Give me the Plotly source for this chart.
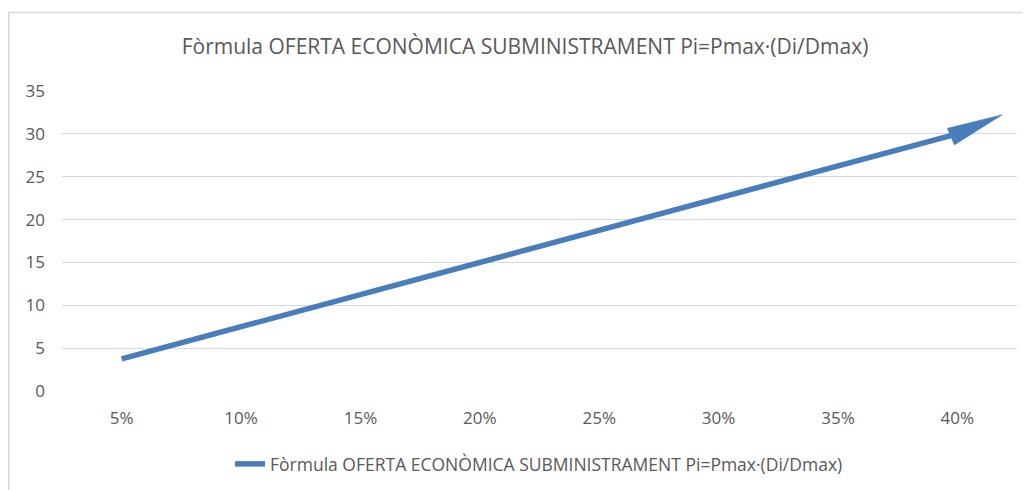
import math
import plotly.graph_objects as go

# ---- data ----
categories = ["5%", "10%", "15%", "20%", "25%", "30%", "35%", "40%"]
values = [3.75, 7.5, 11.25, 15, 18.75, 22.5, 26.25, 30]
series_name = "Fòrmula OFERTA ECONÒMICA SUBMINISTRAMENT Pi=Pmax·(Di/Dmax)"
title_text = "Fòrmula OFERTA ECONÒMICA SUBMINISTRAMENT Pi=Pmax·(Di/Dmax)"
y_ticks = [0, 5, 10, 15, 20, 25, 30, 35]

# ---- layout constants (page body has an 8px margin) ----
W, H = 1022, 482
ML, MR, MT, MB = 54, 13, 83, 99
PLOT_W = W - ML - MR
PLOT_H = H - MT - MB
X_RANGE = [-0.5, len(categories) - 0.5]
Y_RANGE = [0, 35]
BLUE = "#4a7dbb"
GRID = "#d9d9d9"
TXT = "#595959"
FONT = "Open Sans"

xs = list(range(len(categories)))

fig = go.Figure()
fig.add_trace(go.Scatter(
    x=xs, y=values, mode="lines", name=series_name,
    line=dict(color=BLUE, width=5.5),
    hoverinfo="skip",
))

# arrow head at the end of the line (built from last data point)
px_per_x = PLOT_W / (X_RANGE[1] - X_RANGE[0])
px_per_y = PLOT_H / (Y_RANGE[1] - Y_RANGE[0])
ang = math.radians(23)
ux, uy = math.cos(ang), math.sin(ang)
head_len, head_w, back = 56, 18, 7
bx_px, by_px = -back * ux, -back * uy
tip = (bx_px + head_len * ux, by_px + head_len * uy)
c1 = (bx_px - head_w / 2 * (-uy), by_px - head_w / 2 * ux)
c2 = (bx_px + head_w / 2 * (-uy), by_px + head_w / 2 * ux)
lx, ly = xs[-1], values[-1]
tri = [c1, tip, c2, c1]
fig.add_trace(go.Scatter(
    x=[lx + p[0] / px_per_x for p in tri],
    y=[ly + p[1] / px_per_y for p in tri],
    mode="lines", fill="toself", fillcolor=BLUE,
    line=dict(color=BLUE, width=0.5), showlegend=False, hoverinfo="skip",
))

fig.update_layout(
    width=W, height=H, autosize=False,
    margin=dict(l=ML, r=MR, t=MT, b=MB, pad=0),
    paper_bgcolor="white", plot_bgcolor="white",
    font=dict(family=FONT, color=TXT),
    title=dict(text=title_text, x=517 / W, xanchor="center", xref="container",
               y=1 - 39 / H, yanchor="middle", yref="container",
               font=dict(family=FONT, size=21, color=TXT)),
    xaxis=dict(range=X_RANGE, tickvals=xs, ticktext=categories, showgrid=False,
               zeroline=False, showline=False, ticks="", ticklabelstandoff=15,
               tickfont=dict(family=FONT, size=17, color=TXT), fixedrange=True),
    yaxis=dict(range=Y_RANGE, tickvals=y_ticks, showgrid=True, gridcolor=GRID,
               gridwidth=1, zeroline=False, showline=False, ticks="",
               ticklabelstandoff=16,
               tickfont=dict(family=FONT, size=17, color=TXT), fixedrange=True),
    legend=dict(orientation="h", x=531 / W, xanchor="center", xref="container",
                y=1 - 456 / H, yanchor="middle", yref="container",
                font=dict(family=FONT, size=17.5, color=TXT)),
    showlegend=True,
)

# chart-area border (top and left edges visible in the frame)
fig.add_shape(type="rect", xref="paper", yref="paper",
              x0=(0.75 - ML) / PLOT_W, x1=1.2,
              y0=-0.6, y1=(H - MB - 4.5) / PLOT_H,
              line=dict(color=GRID, width=1.5), layer="below")

fig.write_html("out.html")
